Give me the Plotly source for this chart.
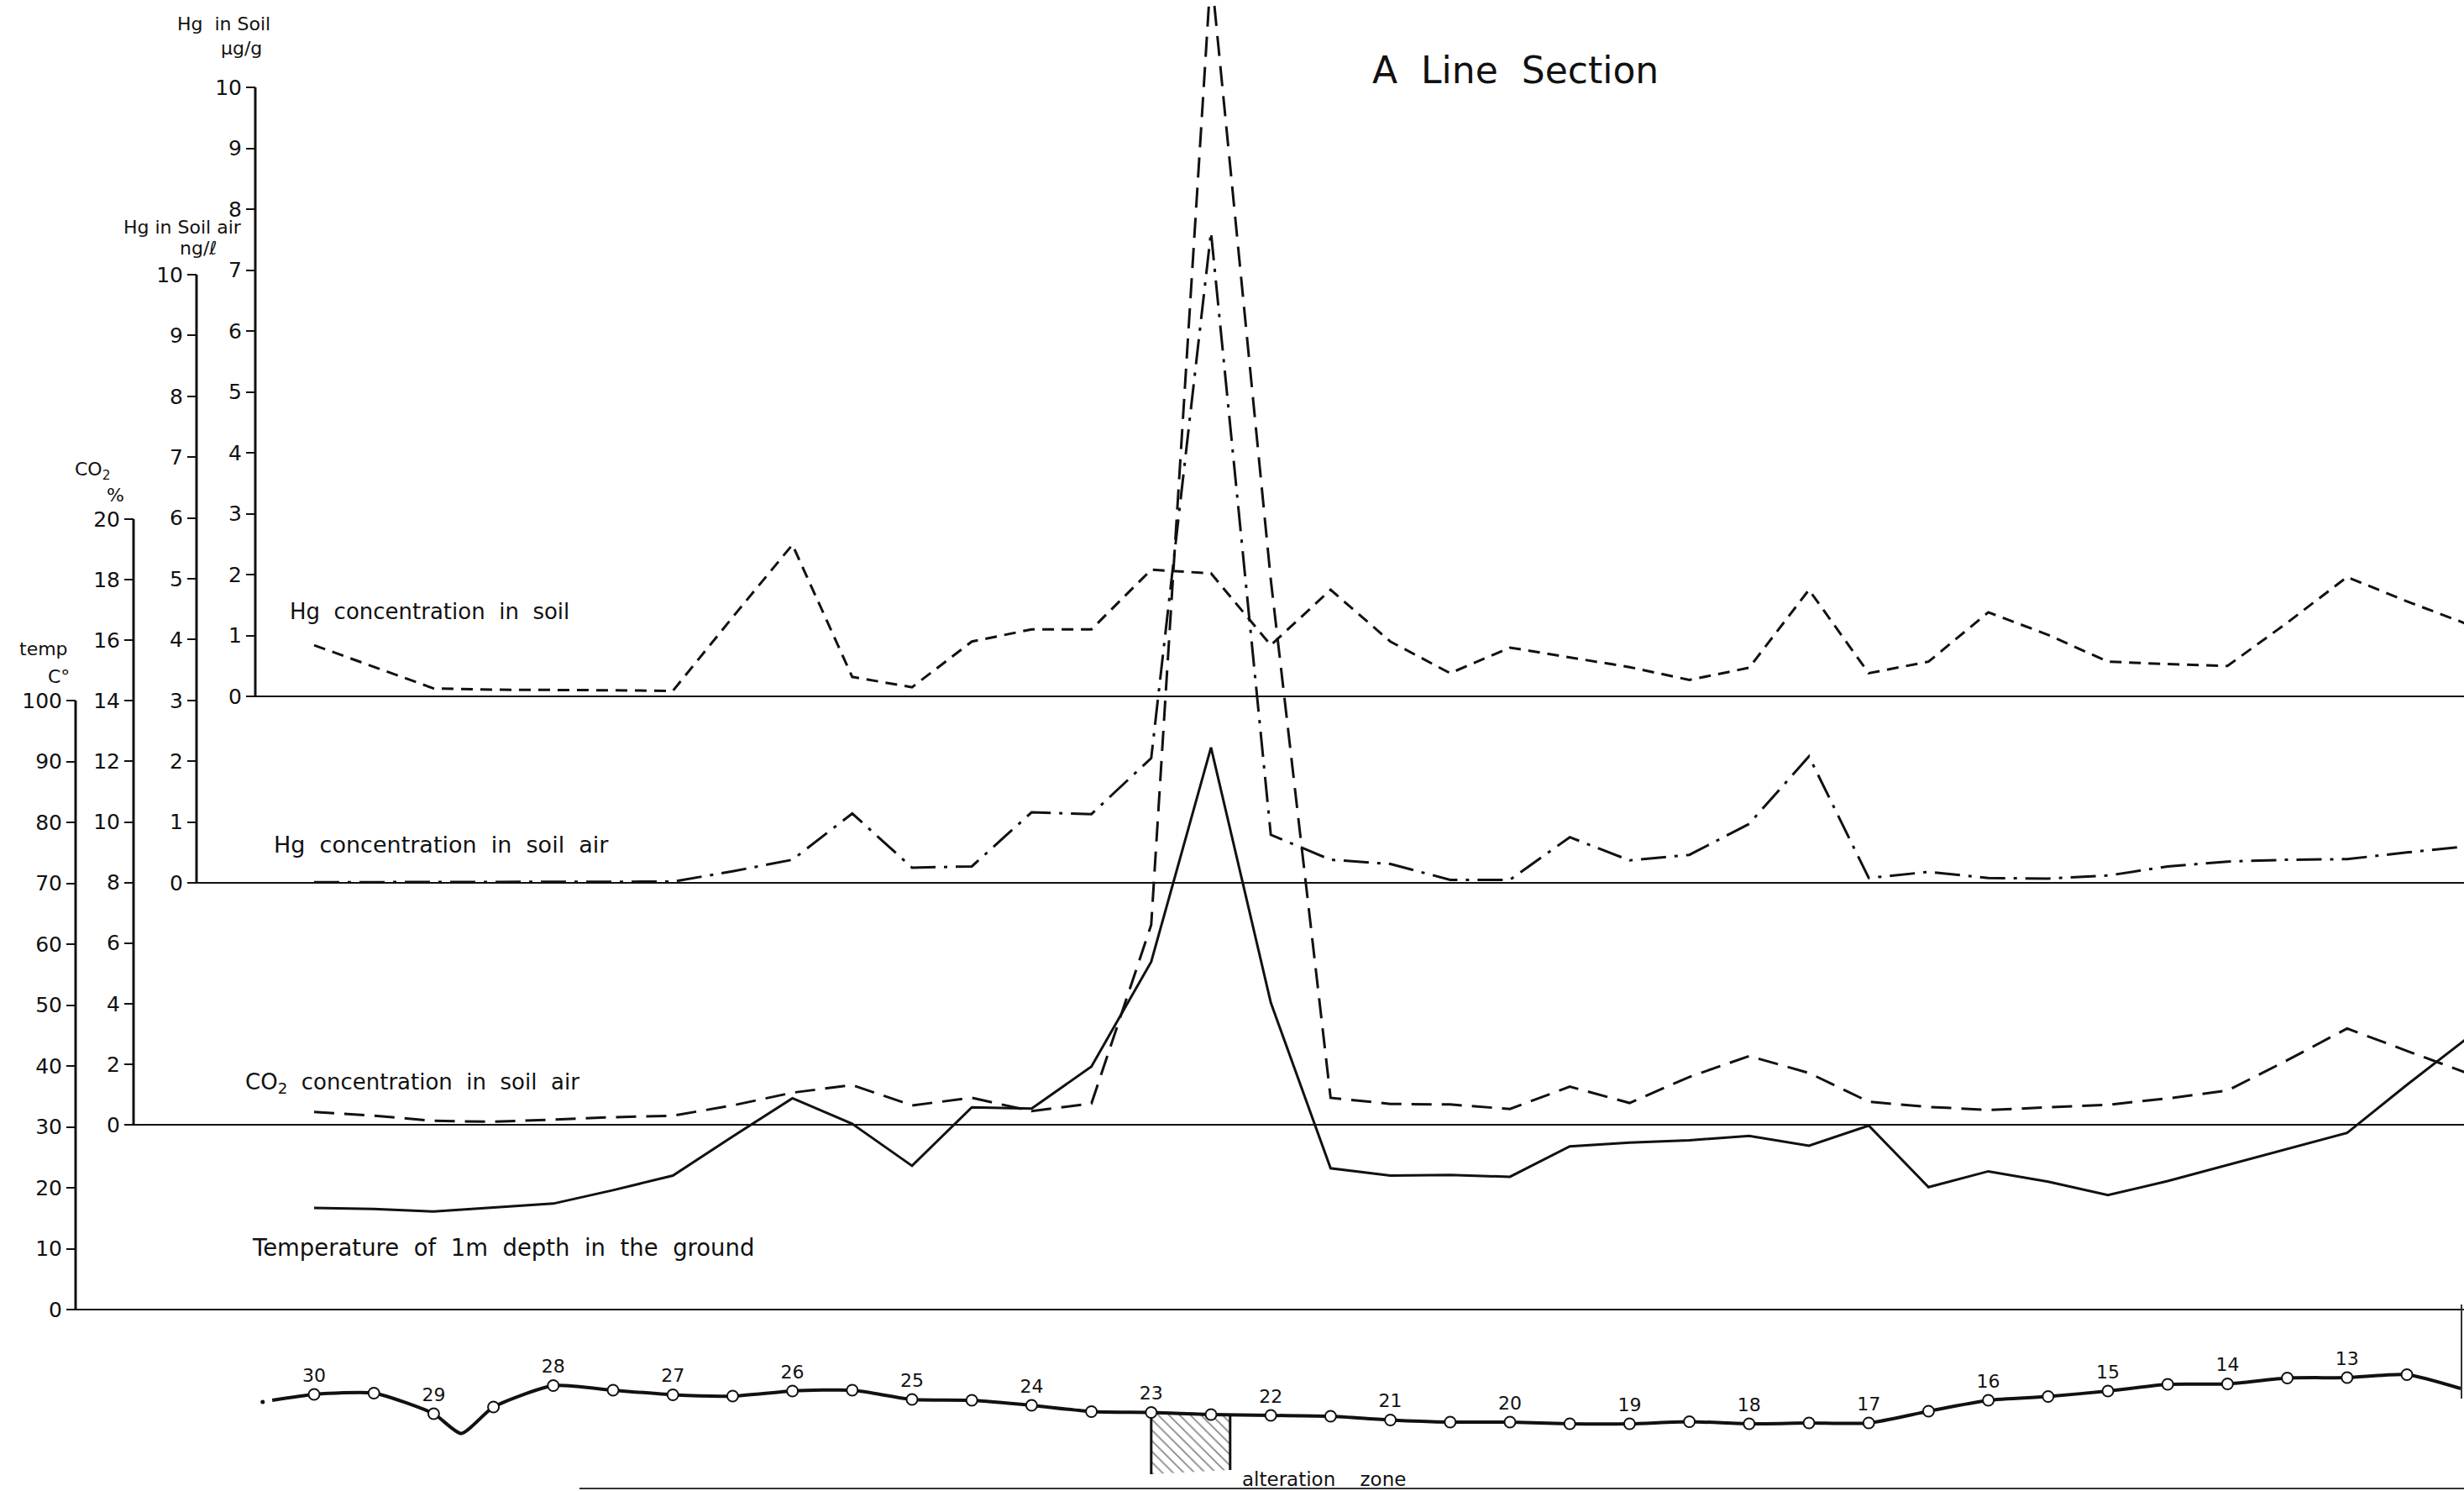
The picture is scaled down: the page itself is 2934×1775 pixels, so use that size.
import plotly.graph_objects as go

W, H = 2934, 1775

# ------------------------------------------------------------------ data
stations = [30, 29.5, 29, 28.5, 28, 27.5, 27, 26.5, 26, 25.5, 25, 24.5, 24,
            23.5, 23, 22.5, 22, 21.5, 21, 20.5, 20, 19.5, 19, 18.5, 18,
            17.5, 17, 16.5, 16, 15.5, 15, 14.5, 14, 13.5, 13, 12.5, 12]

# Hg concentration in soil (ug/g)
hg_soil = [0.84, 0.48, 0.13, 0.11, 0.11, 0.10, 0.09, 1.30, 2.49, 0.32, 0.15, 0.90, 1.10,
           1.10, 2.08, 2.02, 0.84, 1.75, 0.90, 0.38, 0.80, 0.64, 0.48, 0.27, 0.47,
           1.75, 0.38, 0.57, 1.38, 1.01, 0.57, 0.53, 0.50, 1.21, 1.96, 1.56, 1.19]

# Hg concentration in soil air (ng/l)
hg_soil_air = [0.01, 0.01, 0.01, 0.01, 0.01, 0.01, 0.02, 0.19, 0.38, 1.14, 0.25, 0.27, 1.16,
               1.13, 2.05, 10.7, 0.79, 0.38, 0.31, 0.05, 0.05, 0.75, 0.37, 0.46, 0.97,
               2.08, 0.08, 0.18, 0.08, 0.07, 0.12, 0.27, 0.35, 0.38, 0.39, 0.50, 0.60]

# CO2 concentration in soil air (%)
co2_soil_air = [0.42, 0.30, 0.13, 0.10, 0.17, 0.25, 0.30, 0.64, 1.06, 1.31, 0.64, 0.89, 0.45,
                0.70, 6.6, 38.1, 18.0, 0.89, 0.69, 0.67, 0.52, 1.26, 0.72, 1.58, 2.27,
                1.71, 0.76, 0.59, 0.49, 0.57, 0.66, 0.87, 1.13, 2.13, 3.18, 2.44, 1.71]

# Temperature at 1 m depth (deg C)
temp_1m = [16.7, 16.5, 16.1, 16.7, 17.4, 19.6, 22.0, 28.4, 34.7, 30.5, 23.6, 33.2, 33.0,
           39.9, 57.1, 92.3, 50.4, 23.2, 22.0, 22.1, 21.8, 26.8, 27.4, 27.8, 28.5,
           26.9, 30.2, 20.1, 22.7, 21.0, 18.8, 21.1, 23.7, 26.4, 29.0, 36.9, 44.5]

# ground profile (relative height, arbitrary units) at the sampling points
profile_stations = [30, 29.5, 29, 28.5, 28, 27.5, 27, 26.5, 26, 25.5, 25, 24.5, 24,
                    23.5, 23, 22.5, 22, 21.5, 21, 20.5, 20, 19.5, 19, 18.5, 18,
                    17.5, 17, 16.5, 16, 15.5, 15, 14.5, 14, 13.5, 13, 12.5]
profile_height = [10.0, 10.3, 5.4, 7.0, 12.1, 11.0, 9.9, 9.6, 10.8, 11.0, 8.8, 8.6, 7.4,
                  5.9, 5.7, 5.2, 5.0, 4.8, 3.9, 3.4, 3.4, 3.0, 3.0, 3.5, 3.0,
                  3.2, 3.2, 6.0, 8.6, 9.5, 10.8, 12.4, 12.5, 13.9, 14.0, 14.7]
# extra profile vertices without a sampling point (line start, valley at 29, right end)
profile_extra_stations = [30.35, 28.77, 12.05]
profile_extra_height = [8.6, 0.7, 11.4]
# isolated dot at the left end of the profile
profile_dot_station = [30.43]
profile_dot_height = [8.2]

# labelled stations
label_stations = [30, 29, 28, 27, 26, 25, 24, 23, 22, 21, 20, 19, 18, 17, 16, 15, 14, 13]
label_height = [10.0, 5.4, 12.1, 9.9, 10.8, 8.8, 7.4, 5.7, 5.0, 3.9, 3.4, 3.0, 3.0, 3.2,
                8.6, 10.8, 12.5, 14.0]
label_text = ["30", "29", "28", "27", "26", "25", "24", "23", "22", "21", "20", "19",
              "18", "17", "16", "15", "14", "13"]

# alteration zone outline (station, relative height)
alteration_x = [23, 23, 22.5, 22.34, 22.34]
alteration_y = [-9.0, 5.7, 5.2, 5.1, -8.0]

temp_ticks = [0, 10, 20, 30, 40, 50, 60, 70, 80, 90, 100]
co2_ticks = [0, 2, 4, 6, 8, 10, 12, 14, 16, 18, 20]
hg_air_ticks = [0, 1, 2, 3, 4, 5, 6, 7, 8, 9, 10]
hg_soil_ticks = [0, 1, 2, 3, 4, 5, 6, 7, 8, 9, 10]

# ------------------------------------------------------------------ styling / calibration
BLACK = "#111111"
FONT = "DejaVu Sans"
NB = "\u00a0"


def sp(t):
    return t.replace("  ", " " + NB)


def axis_range(zero_px, px_per_unit):
    return [-(H - zero_px) / px_per_unit, zero_px / px_per_unit]


ST30_PX, PX_PER_STATION = 374.0, 142.4
x_range = [30 + ST30_PX / PX_PER_STATION, 30 - (W - ST30_PX) / PX_PER_STATION]

AX_TEMP, AX_CO2, AX_AIR, AX_SOIL = 90, 159, 234, 304

fig = go.Figure()

fig.add_trace(go.Scatter(x=stations, y=hg_soil, yaxis="y4", mode="lines",
                         line=dict(color=BLACK, width=3, dash="14px,9px")))
fig.add_trace(go.Scatter(x=stations, y=hg_soil_air, yaxis="y3", mode="lines",
                         line=dict(color=BLACK, width=3, dash="30px,10px,4px,10px")))
fig.add_trace(go.Scatter(x=stations, y=co2_soil_air, yaxis="y2", mode="lines",
                         line=dict(color=BLACK, width=3, dash="24px,12px")))
fig.add_trace(go.Scatter(x=stations, y=temp_1m, yaxis="y", mode="lines",
                         line=dict(color=BLACK, width=3)))

# alteration zone (hatched)
fig.add_trace(go.Scatter(x=alteration_x, y=alteration_y, yaxis="y5", mode="lines",
                         fill="toself", fillcolor="white",
                         fillpattern=dict(shape="\\", fgcolor=BLACK, bgcolor="white",
                                          size=9, solidity=0.2),
                         line=dict(color=BLACK, width=3)))

# ground profile line
pts = list(zip(profile_stations, profile_height)) + list(zip(profile_extra_stations, profile_extra_height))
pts.sort(key=lambda p: -p[0])
fig.add_trace(go.Scatter(x=[p[0] for p in pts], y=[p[1] for p in pts], yaxis="y5", mode="lines",
                         line=dict(color=BLACK, width=4, shape="spline", smoothing=0.6)))
fig.add_trace(go.Scatter(x=profile_dot_station, y=profile_dot_height, yaxis="y5", mode="markers",
                         marker=dict(size=5, color=BLACK)))

fig.add_trace(go.Scatter(x=profile_stations, y=profile_height, yaxis="y5", mode="markers",
                         marker=dict(symbol="circle", size=13, color="white",
                                     line=dict(color=BLACK, width=2))))
# station numbers above their circles (invisible markers give the label offset)
fig.add_trace(go.Scatter(x=label_stations, y=label_height, yaxis="y5", mode="markers+text",
                         text=label_text, textposition="top center",
                         marker=dict(size=14, color="rgba(0,0,0,0)"),
                         textfont=dict(family=FONT, size=22, color=BLACK)))

common = dict(showgrid=False, zeroline=False, showline=False, ticks="outside", ticklen=11,
              tickwidth=2, tickcolor=BLACK, tickfont=dict(family=FONT, size=25, color=BLACK),
              anchor="free", side="left", automargin=False, fixedrange=True)

fig.update_layout(
    width=W, height=H,
    margin=dict(l=0, r=0, t=0, b=0, pad=0),
    paper_bgcolor="white", plot_bgcolor="white",
    showlegend=False,
    font=dict(family=FONT, color=BLACK),
    xaxis=dict(range=x_range, domain=[0, 1], visible=False, fixedrange=True),
    yaxis=dict(range=axis_range(1559, 7.25), domain=[0, 1], position=AX_TEMP / W,
               tickvals=temp_ticks, **common),
    yaxis2=dict(range=axis_range(1339, 36.05), overlaying="y", position=AX_CO2 / W,
                tickvals=co2_ticks, **common),
    yaxis3=dict(range=axis_range(1051, 72.4), overlaying="y", position=AX_AIR / W,
                tickvals=hg_air_ticks, **common),
    yaxis4=dict(range=axis_range(829, 72.5), overlaying="y", position=AX_SOIL / W,
                tickvals=hg_soil_ticks, **common),
    yaxis5=dict(range=axis_range(1710, 5.0), overlaying="y", visible=False, fixedrange=True),
)

shapes = []
for ax_px, yref, top in [(AX_TEMP, "y", temp_ticks[-1]), (AX_CO2, "y2", co2_ticks[-1]),
                         (AX_AIR, "y3", hg_air_ticks[-1]), (AX_SOIL, "y4", hg_soil_ticks[-1])]:
    shapes.append(dict(type="line", xref="paper", yref=yref, x0=ax_px / W, x1=ax_px / W,
                       y0=0, y1=top, line=dict(color=BLACK, width=3)))
    shapes.append(dict(type="line", xref="paper", yref=yref, x0=ax_px / W, x1=1,
                       y0=0, y1=0, line=dict(color=BLACK, width=2)))
# frame fragments of the original sheet
shapes.append(dict(type="line", xref="paper", yref="paper", x0=690 / W, x1=1,
                   y0=1 - 1772 / H, y1=1 - 1772 / H, line=dict(color="#333333", width=2)))
shapes.append(dict(type="line", xref="paper", yref="paper", x0=2931 / W, x1=2931 / W,
                   y0=1 - 1553 / H, y1=1 - 1665 / H, line=dict(color="#333333", width=2)))
fig.update_layout(shapes=shapes)


def ann(text, xpx, ypx, size, xanchor="center"):
    return dict(text=text, xref="paper", yref="paper", x=xpx / W, y=1 - ypx / H,
                xanchor=xanchor, yanchor="middle", showarrow=False,
                font=dict(family=FONT, size=size, color=BLACK))


annotations = [
    ann(sp("Hg  in Soil"), 266, 28, 22),
    ann("\u00b5g/g", 287, 57, 22),
    ann("Hg in Soil air", 217, 270, 22),
    ann("ng/\u2113", 236, 296, 22),
    ann("CO<sub>2</sub>", 110, 560, 22),
    ann("%", 137, 589, 22),
    ann("temp", 52, 772, 22),
    ann("C\u00b0", 70, 806, 22),
    ann(sp("A  Line  Section"), 1805, 84, 44),
    ann(sp("Hg  concentration  in  soil"), 343, 728, 26, "left"),
    ann(sp("Hg  concentration  in  soil  air"), 324, 1005, 27, "left"),
    ann(sp("CO<sub>2</sub>  concentration  in  soil  air"), 290, 1289, 26, "left"),
    ann(sp("Temperature  of  1m  depth  in  the  ground"), 298, 1485, 27.5, "left"),
    ann(sp("alteration    zone"), 1477, 1761, 23, "left"),
]
fig.update_layout(annotations=annotations)

fig.write_html("out.html")
